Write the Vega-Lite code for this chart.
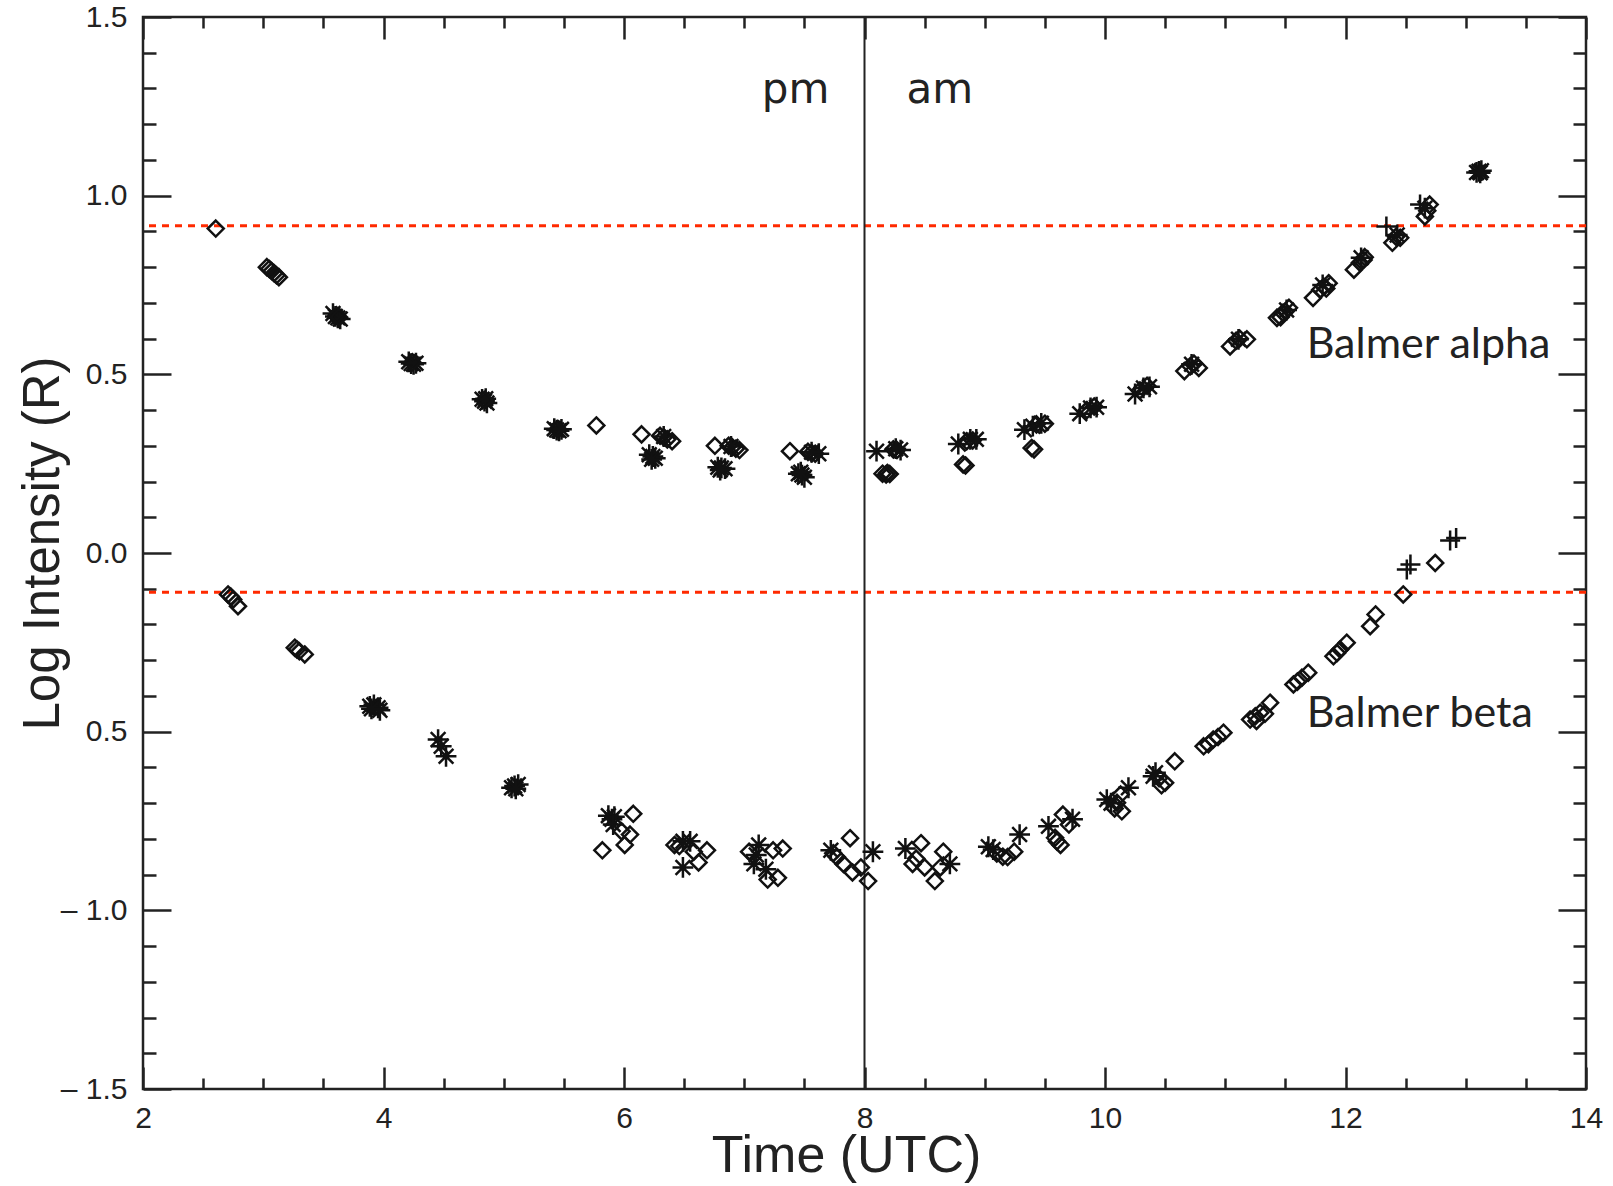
{
  "$schema": "https://vega.github.io/schema/vega-lite/v6.json",
  "width": 1443,
  "height": 1072,
  "autosize": "none",
  "padding": {"left": 143, "top": 17, "right": 27, "bottom": 97},
  "background": "white",
  "config": {
    "view": {"stroke": "#222222", "strokeWidth": 2.5},
    "axis": {
      "domain": false,
      "grid": false,
      "tickColor": "#222222",
      "tickWidth": 2.5,
      "labelFont": "Liberation Sans",
      "labelFontSize": 30,
      "labelColor": "#222222",
      "titleFont": "Liberation Sans",
      "titleFontWeight": "normal",
      "titleColor": "#222222"
    }
  },
  "datasets": {
    "pts": [
      {"line": "alpha", "time": 2.605, "logI": 0.908, "sym": "diamond"},
      {"line": "alpha", "time": 3.03, "logI": 0.8, "sym": "diamond"},
      {"line": "alpha", "time": 3.05, "logI": 0.795, "sym": "diamond"},
      {"line": "alpha", "time": 3.07, "logI": 0.789, "sym": "diamond"},
      {"line": "alpha", "time": 3.09, "logI": 0.783, "sym": "diamond"},
      {"line": "alpha", "time": 3.11, "logI": 0.777, "sym": "diamond"},
      {"line": "alpha", "time": 3.13, "logI": 0.772, "sym": "diamond"},
      {"line": "alpha", "time": 3.58, "logI": 0.67, "sym": "asterisk"},
      {"line": "alpha", "time": 3.6, "logI": 0.662, "sym": "asterisk"},
      {"line": "alpha", "time": 3.62, "logI": 0.658, "sym": "asterisk"},
      {"line": "alpha", "time": 3.64, "logI": 0.655, "sym": "asterisk"},
      {"line": "alpha", "time": 3.61, "logI": 0.665, "sym": "diamond"},
      {"line": "alpha", "time": 3.63, "logI": 0.66, "sym": "diamond"},
      {"line": "alpha", "time": 4.21, "logI": 0.535, "sym": "asterisk"},
      {"line": "alpha", "time": 4.23, "logI": 0.53, "sym": "asterisk"},
      {"line": "alpha", "time": 4.25, "logI": 0.528, "sym": "asterisk"},
      {"line": "alpha", "time": 4.27, "logI": 0.531, "sym": "asterisk"},
      {"line": "alpha", "time": 4.24, "logI": 0.534, "sym": "diamond"},
      {"line": "alpha", "time": 4.82, "logI": 0.43, "sym": "asterisk"},
      {"line": "alpha", "time": 4.84, "logI": 0.425, "sym": "asterisk"},
      {"line": "alpha", "time": 4.86, "logI": 0.42, "sym": "asterisk"},
      {"line": "alpha", "time": 4.85, "logI": 0.432, "sym": "asterisk"},
      {"line": "alpha", "time": 4.84, "logI": 0.428, "sym": "diamond"},
      {"line": "alpha", "time": 5.42, "logI": 0.348, "sym": "asterisk"},
      {"line": "alpha", "time": 5.44, "logI": 0.344, "sym": "asterisk"},
      {"line": "alpha", "time": 5.46, "logI": 0.342, "sym": "asterisk"},
      {"line": "alpha", "time": 5.48, "logI": 0.346, "sym": "asterisk"},
      {"line": "alpha", "time": 5.45, "logI": 0.347, "sym": "diamond"},
      {"line": "alpha", "time": 5.77, "logI": 0.357, "sym": "diamond"},
      {"line": "alpha", "time": 6.146, "logI": 0.332, "sym": "diamond"},
      {"line": "alpha", "time": 6.3, "logI": 0.328, "sym": "diamond"},
      {"line": "alpha", "time": 6.33, "logI": 0.324, "sym": "diamond"},
      {"line": "alpha", "time": 6.36, "logI": 0.318, "sym": "diamond"},
      {"line": "alpha", "time": 6.4, "logI": 0.313, "sym": "diamond"},
      {"line": "alpha", "time": 6.33, "logI": 0.326, "sym": "asterisk"},
      {"line": "alpha", "time": 6.21, "logI": 0.275, "sym": "asterisk"},
      {"line": "alpha", "time": 6.24, "logI": 0.27, "sym": "asterisk"},
      {"line": "alpha", "time": 6.26, "logI": 0.265, "sym": "asterisk"},
      {"line": "alpha", "time": 6.23, "logI": 0.262, "sym": "asterisk"},
      {"line": "alpha", "time": 6.756, "logI": 0.3, "sym": "diamond"},
      {"line": "alpha", "time": 6.87, "logI": 0.3, "sym": "diamond"},
      {"line": "alpha", "time": 6.9, "logI": 0.296, "sym": "diamond"},
      {"line": "alpha", "time": 6.93, "logI": 0.292, "sym": "diamond"},
      {"line": "alpha", "time": 6.96, "logI": 0.288, "sym": "diamond"},
      {"line": "alpha", "time": 6.89, "logI": 0.298, "sym": "asterisk"},
      {"line": "alpha", "time": 6.78, "logI": 0.24, "sym": "asterisk"},
      {"line": "alpha", "time": 6.81, "logI": 0.238, "sym": "asterisk"},
      {"line": "alpha", "time": 6.84, "logI": 0.236, "sym": "asterisk"},
      {"line": "alpha", "time": 6.8, "logI": 0.232, "sym": "asterisk"},
      {"line": "alpha", "time": 7.38, "logI": 0.285, "sym": "diamond"},
      {"line": "alpha", "time": 7.53, "logI": 0.283, "sym": "diamond"},
      {"line": "alpha", "time": 7.56, "logI": 0.28, "sym": "diamond"},
      {"line": "alpha", "time": 7.59, "logI": 0.278, "sym": "diamond"},
      {"line": "alpha", "time": 7.62, "logI": 0.278, "sym": "asterisk"},
      {"line": "alpha", "time": 7.56, "logI": 0.282, "sym": "asterisk"},
      {"line": "alpha", "time": 7.45, "logI": 0.222, "sym": "asterisk"},
      {"line": "alpha", "time": 7.48, "logI": 0.218, "sym": "asterisk"},
      {"line": "alpha", "time": 7.5, "logI": 0.212, "sym": "asterisk"},
      {"line": "alpha", "time": 7.47, "logI": 0.226, "sym": "asterisk"},
      {"line": "alpha", "time": 8.1, "logI": 0.285, "sym": "asterisk"},
      {"line": "alpha", "time": 8.24, "logI": 0.29, "sym": "diamond"},
      {"line": "alpha", "time": 8.27, "logI": 0.288, "sym": "diamond"},
      {"line": "alpha", "time": 8.3, "logI": 0.288, "sym": "asterisk"},
      {"line": "alpha", "time": 8.26, "logI": 0.292, "sym": "asterisk"},
      {"line": "alpha", "time": 8.15, "logI": 0.222, "sym": "diamond"},
      {"line": "alpha", "time": 8.18, "logI": 0.22, "sym": "diamond"},
      {"line": "alpha", "time": 8.21, "logI": 0.221, "sym": "diamond"},
      {"line": "alpha", "time": 8.19, "logI": 0.224, "sym": "diamond"},
      {"line": "alpha", "time": 8.78, "logI": 0.305, "sym": "asterisk"},
      {"line": "alpha", "time": 8.85, "logI": 0.313, "sym": "diamond"},
      {"line": "alpha", "time": 8.88, "logI": 0.318, "sym": "asterisk"},
      {"line": "alpha", "time": 8.9, "logI": 0.315, "sym": "diamond"},
      {"line": "alpha", "time": 8.93, "logI": 0.318, "sym": "asterisk"},
      {"line": "alpha", "time": 8.82, "logI": 0.248, "sym": "diamond"},
      {"line": "alpha", "time": 8.84, "logI": 0.245, "sym": "diamond"},
      {"line": "alpha", "time": 9.33, "logI": 0.345, "sym": "asterisk"},
      {"line": "alpha", "time": 9.4, "logI": 0.355, "sym": "asterisk"},
      {"line": "alpha", "time": 9.43, "logI": 0.36, "sym": "diamond"},
      {"line": "alpha", "time": 9.47, "logI": 0.363, "sym": "asterisk"},
      {"line": "alpha", "time": 9.5, "logI": 0.362, "sym": "diamond"},
      {"line": "alpha", "time": 9.39, "logI": 0.294, "sym": "diamond"},
      {"line": "alpha", "time": 9.41, "logI": 0.29, "sym": "diamond"},
      {"line": "alpha", "time": 9.79, "logI": 0.39, "sym": "asterisk"},
      {"line": "alpha", "time": 9.85, "logI": 0.4, "sym": "diamond"},
      {"line": "alpha", "time": 9.88, "logI": 0.406, "sym": "asterisk"},
      {"line": "alpha", "time": 9.91, "logI": 0.41, "sym": "diamond"},
      {"line": "alpha", "time": 9.93, "logI": 0.408, "sym": "asterisk"},
      {"line": "alpha", "time": 10.25, "logI": 0.445, "sym": "asterisk"},
      {"line": "alpha", "time": 10.29, "logI": 0.455, "sym": "diamond"},
      {"line": "alpha", "time": 10.32, "logI": 0.462, "sym": "asterisk"},
      {"line": "alpha", "time": 10.35, "logI": 0.468, "sym": "diamond"},
      {"line": "alpha", "time": 10.37, "logI": 0.465, "sym": "asterisk"},
      {"line": "alpha", "time": 10.66, "logI": 0.509, "sym": "diamond"},
      {"line": "alpha", "time": 10.71, "logI": 0.523, "sym": "diamond"},
      {"line": "alpha", "time": 10.74, "logI": 0.53, "sym": "diamond"},
      {"line": "alpha", "time": 10.72, "logI": 0.528, "sym": "asterisk"},
      {"line": "alpha", "time": 10.78, "logI": 0.518, "sym": "diamond"},
      {"line": "alpha", "time": 11.04, "logI": 0.578, "sym": "diamond"},
      {"line": "alpha", "time": 11.09, "logI": 0.594, "sym": "diamond"},
      {"line": "alpha", "time": 11.12, "logI": 0.6, "sym": "diamond"},
      {"line": "alpha", "time": 11.11, "logI": 0.598, "sym": "asterisk"},
      {"line": "alpha", "time": 11.18, "logI": 0.598, "sym": "diamond"},
      {"line": "alpha", "time": 11.43, "logI": 0.658, "sym": "diamond"},
      {"line": "alpha", "time": 11.46, "logI": 0.66, "sym": "diamond"},
      {"line": "alpha", "time": 11.48, "logI": 0.672, "sym": "diamond"},
      {"line": "alpha", "time": 11.5, "logI": 0.676, "sym": "diamond"},
      {"line": "alpha", "time": 11.51, "logI": 0.68, "sym": "asterisk"},
      {"line": "alpha", "time": 11.53, "logI": 0.686, "sym": "diamond"},
      {"line": "alpha", "time": 11.73, "logI": 0.714, "sym": "diamond"},
      {"line": "alpha", "time": 11.79, "logI": 0.737, "sym": "diamond"},
      {"line": "alpha", "time": 11.82, "logI": 0.745, "sym": "diamond"},
      {"line": "alpha", "time": 11.81, "logI": 0.75, "sym": "asterisk"},
      {"line": "alpha", "time": 11.84, "logI": 0.74, "sym": "diamond"},
      {"line": "alpha", "time": 11.86, "logI": 0.755, "sym": "diamond"},
      {"line": "alpha", "time": 12.07, "logI": 0.793, "sym": "diamond"},
      {"line": "alpha", "time": 12.12, "logI": 0.812, "sym": "diamond"},
      {"line": "alpha", "time": 12.15, "logI": 0.82, "sym": "diamond"},
      {"line": "alpha", "time": 12.13, "logI": 0.826, "sym": "asterisk"},
      {"line": "alpha", "time": 12.16, "logI": 0.828, "sym": "diamond"},
      {"line": "alpha", "time": 12.34, "logI": 0.914, "sym": "plus"},
      {"line": "alpha", "time": 12.39, "logI": 0.868, "sym": "diamond"},
      {"line": "alpha", "time": 12.42, "logI": 0.885, "sym": "diamond"},
      {"line": "alpha", "time": 12.455, "logI": 0.882, "sym": "diamond"},
      {"line": "alpha", "time": 12.43, "logI": 0.89, "sym": "asterisk"},
      {"line": "alpha", "time": 12.62, "logI": 0.975, "sym": "plus"},
      {"line": "alpha", "time": 12.66, "logI": 0.942, "sym": "diamond"},
      {"line": "alpha", "time": 12.68, "logI": 0.958, "sym": "diamond"},
      {"line": "alpha", "time": 12.7, "logI": 0.975, "sym": "diamond"},
      {"line": "alpha", "time": 12.66, "logI": 0.965, "sym": "asterisk"},
      {"line": "alpha", "time": 13.09, "logI": 1.065, "sym": "asterisk"},
      {"line": "alpha", "time": 13.11, "logI": 1.068, "sym": "asterisk"},
      {"line": "alpha", "time": 13.13, "logI": 1.07, "sym": "asterisk"},
      {"line": "alpha", "time": 13.12, "logI": 1.064, "sym": "asterisk"},
      {"line": "beta", "time": 2.707, "logI": -0.116, "sym": "diamond"},
      {"line": "beta", "time": 2.73, "logI": -0.122, "sym": "diamond"},
      {"line": "beta", "time": 2.75, "logI": -0.13, "sym": "diamond"},
      {"line": "beta", "time": 2.79, "logI": -0.149, "sym": "diamond"},
      {"line": "beta", "time": 3.262, "logI": -0.265, "sym": "diamond"},
      {"line": "beta", "time": 3.28, "logI": -0.27, "sym": "diamond"},
      {"line": "beta", "time": 3.3, "logI": -0.275, "sym": "diamond"},
      {"line": "beta", "time": 3.345, "logI": -0.284, "sym": "diamond"},
      {"line": "beta", "time": 3.886, "logI": -0.429, "sym": "asterisk"},
      {"line": "beta", "time": 3.92, "logI": -0.425, "sym": "asterisk"},
      {"line": "beta", "time": 3.955, "logI": -0.433, "sym": "asterisk"},
      {"line": "beta", "time": 3.97, "logI": -0.44, "sym": "asterisk"},
      {"line": "beta", "time": 3.9, "logI": -0.436, "sym": "asterisk"},
      {"line": "beta", "time": 4.454, "logI": -0.522, "sym": "asterisk"},
      {"line": "beta", "time": 4.48, "logI": -0.541, "sym": "asterisk"},
      {"line": "beta", "time": 4.52, "logI": -0.569, "sym": "asterisk"},
      {"line": "beta", "time": 5.065, "logI": -0.657, "sym": "asterisk"},
      {"line": "beta", "time": 5.09, "logI": -0.652, "sym": "asterisk"},
      {"line": "beta", "time": 5.12, "logI": -0.648, "sym": "asterisk"},
      {"line": "beta", "time": 5.1, "logI": -0.66, "sym": "asterisk"},
      {"line": "beta", "time": 5.87, "logI": -0.735, "sym": "asterisk"},
      {"line": "beta", "time": 5.9, "logI": -0.745, "sym": "asterisk"},
      {"line": "beta", "time": 5.92, "logI": -0.738, "sym": "asterisk"},
      {"line": "beta", "time": 5.91, "logI": -0.76, "sym": "asterisk"},
      {"line": "beta", "time": 6.077, "logI": -0.73, "sym": "diamond"},
      {"line": "beta", "time": 5.82, "logI": -0.832, "sym": "diamond"},
      {"line": "beta", "time": 6.006, "logI": -0.817, "sym": "diamond"},
      {"line": "beta", "time": 6.05, "logI": -0.788, "sym": "diamond"},
      {"line": "beta", "time": 5.98, "logI": -0.779, "sym": "diamond"},
      {"line": "beta", "time": 6.42, "logI": -0.817, "sym": "diamond"},
      {"line": "beta", "time": 6.46, "logI": -0.82, "sym": "diamond"},
      {"line": "beta", "time": 6.49, "logI": -0.807, "sym": "asterisk"},
      {"line": "beta", "time": 6.55, "logI": -0.807, "sym": "asterisk"},
      {"line": "beta", "time": 6.49, "logI": -0.88, "sym": "asterisk"},
      {"line": "beta", "time": 6.58, "logI": -0.836, "sym": "diamond"},
      {"line": "beta", "time": 6.62, "logI": -0.866, "sym": "diamond"},
      {"line": "beta", "time": 6.69, "logI": -0.832, "sym": "diamond"},
      {"line": "beta", "time": 7.04, "logI": -0.836, "sym": "diamond"},
      {"line": "beta", "time": 7.12, "logI": -0.817, "sym": "asterisk"},
      {"line": "beta", "time": 7.1, "logI": -0.845, "sym": "asterisk"},
      {"line": "beta", "time": 7.08, "logI": -0.87, "sym": "asterisk"},
      {"line": "beta", "time": 7.18, "logI": -0.885, "sym": "asterisk"},
      {"line": "beta", "time": 7.24, "logI": -0.832, "sym": "diamond"},
      {"line": "beta", "time": 7.32, "logI": -0.827, "sym": "diamond"},
      {"line": "beta", "time": 7.195, "logI": -0.914, "sym": "diamond"},
      {"line": "beta", "time": 7.28, "logI": -0.909, "sym": "diamond"},
      {"line": "beta", "time": 7.88, "logI": -0.798, "sym": "diamond"},
      {"line": "beta", "time": 7.72, "logI": -0.832, "sym": "asterisk"},
      {"line": "beta", "time": 7.74, "logI": -0.84, "sym": "diamond"},
      {"line": "beta", "time": 7.77, "logI": -0.851, "sym": "diamond"},
      {"line": "beta", "time": 7.825, "logI": -0.87, "sym": "diamond"},
      {"line": "beta", "time": 7.9, "logI": -0.894, "sym": "diamond"},
      {"line": "beta", "time": 7.97, "logI": -0.88, "sym": "diamond"},
      {"line": "beta", "time": 8.03, "logI": -0.918, "sym": "diamond"},
      {"line": "beta", "time": 8.07, "logI": -0.836, "sym": "asterisk"},
      {"line": "beta", "time": 8.34, "logI": -0.827, "sym": "asterisk"},
      {"line": "beta", "time": 8.47, "logI": -0.812, "sym": "diamond"},
      {"line": "beta", "time": 8.4, "logI": -0.87, "sym": "diamond"},
      {"line": "beta", "time": 8.43, "logI": -0.855, "sym": "diamond"},
      {"line": "beta", "time": 8.5, "logI": -0.88, "sym": "diamond"},
      {"line": "beta", "time": 8.585, "logI": -0.918, "sym": "diamond"},
      {"line": "beta", "time": 8.655, "logI": -0.836, "sym": "diamond"},
      {"line": "beta", "time": 8.63, "logI": -0.88, "sym": "diamond"},
      {"line": "beta", "time": 8.71, "logI": -0.87, "sym": "asterisk"},
      {"line": "beta", "time": 9.03, "logI": -0.822, "sym": "asterisk"},
      {"line": "beta", "time": 9.07, "logI": -0.83, "sym": "asterisk"},
      {"line": "beta", "time": 9.1, "logI": -0.841, "sym": "diamond"},
      {"line": "beta", "time": 9.15, "logI": -0.85, "sym": "diamond"},
      {"line": "beta", "time": 9.19, "logI": -0.851, "sym": "diamond"},
      {"line": "beta", "time": 9.245, "logI": -0.836, "sym": "diamond"},
      {"line": "beta", "time": 9.29, "logI": -0.788, "sym": "asterisk"},
      {"line": "beta", "time": 9.53, "logI": -0.765, "sym": "asterisk"},
      {"line": "beta", "time": 9.585, "logI": -0.797, "sym": "diamond"},
      {"line": "beta", "time": 9.6, "logI": -0.807, "sym": "diamond"},
      {"line": "beta", "time": 9.63, "logI": -0.817, "sym": "diamond"},
      {"line": "beta", "time": 9.65, "logI": -0.732, "sym": "diamond"},
      {"line": "beta", "time": 9.7, "logI": -0.76, "sym": "diamond"},
      {"line": "beta", "time": 9.73, "logI": -0.745, "sym": "asterisk"},
      {"line": "beta", "time": 10.015, "logI": -0.69, "sym": "asterisk"},
      {"line": "beta", "time": 10.05, "logI": -0.7, "sym": "asterisk"},
      {"line": "beta", "time": 10.08, "logI": -0.715, "sym": "diamond"},
      {"line": "beta", "time": 10.1, "logI": -0.699, "sym": "diamond"},
      {"line": "beta", "time": 10.14, "logI": -0.723, "sym": "diamond"},
      {"line": "beta", "time": 10.13, "logI": -0.676, "sym": "diamond"},
      {"line": "beta", "time": 10.195, "logI": -0.657, "sym": "asterisk"},
      {"line": "beta", "time": 10.4, "logI": -0.625, "sym": "asterisk"},
      {"line": "beta", "time": 10.42, "logI": -0.615, "sym": "asterisk"},
      {"line": "beta", "time": 10.45, "logI": -0.63, "sym": "diamond"},
      {"line": "beta", "time": 10.47, "logI": -0.65, "sym": "diamond"},
      {"line": "beta", "time": 10.5, "logI": -0.643, "sym": "diamond"},
      {"line": "beta", "time": 10.58, "logI": -0.583, "sym": "diamond"},
      {"line": "beta", "time": 10.82, "logI": -0.541, "sym": "diamond"},
      {"line": "beta", "time": 10.86, "logI": -0.535, "sym": "diamond"},
      {"line": "beta", "time": 10.9, "logI": -0.522, "sym": "diamond"},
      {"line": "beta", "time": 10.94, "logI": -0.515, "sym": "diamond"},
      {"line": "beta", "time": 10.985, "logI": -0.503, "sym": "diamond"},
      {"line": "beta", "time": 11.207, "logI": -0.466, "sym": "diamond"},
      {"line": "beta", "time": 11.25, "logI": -0.457, "sym": "diamond"},
      {"line": "beta", "time": 11.26, "logI": -0.47, "sym": "diamond"},
      {"line": "beta", "time": 11.29, "logI": -0.447, "sym": "diamond"},
      {"line": "beta", "time": 11.33, "logI": -0.45, "sym": "diamond"},
      {"line": "beta", "time": 11.373, "logI": -0.419, "sym": "diamond"},
      {"line": "beta", "time": 11.567, "logI": -0.368, "sym": "diamond"},
      {"line": "beta", "time": 11.6, "logI": -0.36, "sym": "diamond"},
      {"line": "beta", "time": 11.637, "logI": -0.349, "sym": "diamond"},
      {"line": "beta", "time": 11.69, "logI": -0.335, "sym": "diamond"},
      {"line": "beta", "time": 11.9, "logI": -0.289, "sym": "diamond"},
      {"line": "beta", "time": 11.93, "logI": -0.28, "sym": "diamond"},
      {"line": "beta", "time": 11.955, "logI": -0.27, "sym": "diamond"},
      {"line": "beta", "time": 12.01, "logI": -0.251, "sym": "diamond"},
      {"line": "beta", "time": 12.205, "logI": -0.205, "sym": "diamond"},
      {"line": "beta", "time": 12.25, "logI": -0.172, "sym": "diamond"},
      {"line": "beta", "time": 12.48, "logI": -0.116, "sym": "diamond"},
      {"line": "beta", "time": 12.51, "logI": -0.046, "sym": "plus"},
      {"line": "beta", "time": 12.54, "logI": -0.032, "sym": "plus"},
      {"line": "beta", "time": 12.746, "logI": -0.028, "sym": "diamond"},
      {"line": "beta", "time": 12.87, "logI": 0.035, "sym": "plus"},
      {"line": "beta", "time": 12.92, "logI": 0.042, "sym": "plus"}
    ],
    "refs": [{"level": 0.916}, {"level": -0.11}],
    "ampm": [
      {"time": 7.146, "logI": 1.26, "text": "pm"},
      {"time": 8.35, "logI": 1.26, "text": "am"}
    ],
    "names": [
      {"time": 11.677, "logI": 0.547, "text": "Balmer alpha"},
      {"time": 11.677, "logI": -0.486, "text": "Balmer beta"}
    ]
  },
  "layer": [
    {
      "data": {"name": "refs"},
      "mark": {"type": "rule", "color": "#ff2a00", "strokeWidth": 3, "strokeDash": [7, 6]},
      "encoding": {
        "y": {
          "field": "level", "type": "quantitative",
          "scale": {"domain": [-1.5, 1.5], "nice": false, "zero": false},
          "axis": {
            "orient": "right", "title": null, "labels": false,
            "values": [-1.5,-1.4,-1.3,-1.2,-1.1,-1.0,-0.9,-0.8,-0.7,-0.6,-0.5,-0.4,-0.3,-0.2,-0.1,0,0.1,0.2,0.3,0.4,0.5,0.6,0.7,0.8,0.9,1.0,1.1,1.2,1.3,1.4,1.5],
            "tickSize": {"condition": {"test": "abs(round(datum.value*10)) % 5 == 0", "value": -28}, "value": -13}
          }
        }
      }
    },
    {
      "data": {"values": [{"time": 8}]},
      "mark": {"type": "rule", "color": "#222222", "strokeWidth": 2},
      "encoding": {
        "x": {
          "field": "time", "type": "quantitative",
          "scale": {"domain": [2, 14], "nice": false, "zero": false},
          "axis": {
            "orient": "top", "title": null, "labels": false,
            "values": [2,2.5,3,3.5,4,4.5,5,5.5,6,6.5,7,7.5,8,8.5,9,9.5,10,10.5,11,11.5,12,12.5,13,13.5,14],
            "tickSize": {"condition": {"test": "datum.value % 2 == 0", "value": -22}, "value": -11}
          }
        }
      }
    },
    {
      "data": {"name": "pts"},
      "mark": {"type": "point", "filled": false, "color": "#111111", "strokeWidth": 2.5, "size": 256, "opacity": 1},
      "encoding": {
        "x": {
          "field": "time", "type": "quantitative",
          "scale": {"domain": [2, 14], "nice": false, "zero": false},
          "axis": {
            "orient": "bottom",
            "title": "Time (UTC)",
            "titleFontSize": 52,
            "titleAnchor": "start",
            "titleAlign": "center",
            "titleBaseline": "alphabetic",
            "titleX": 703,
            "titleY": 82,
            "values": [2,2.5,3,3.5,4,4.5,5,5.5,6,6.5,7,7.5,8,8.5,9,9.5,10,10.5,11,11.5,12,12.5,13,13.5,14],
            "labelExpr": "datum.value % 2 == 0 ? format(datum.value, 'd') : ''",
            "labelPadding": 36,
            "labelFlush": false,
            "labelOverlap": false,
            "tickSize": {"condition": {"test": "datum.value % 2 == 0", "value": -22}, "value": -11}
          }
        },
        "y": {
          "field": "logI", "type": "quantitative",
          "scale": {"domain": [-1.5, 1.5], "nice": false, "zero": false},
          "axis": {
            "orient": "left",
            "title": "Log Intensity (R)",
            "titleFontSize": 51,
            "titleAngle": -90,
            "titleAnchor": "start",
            "titleAlign": "center",
            "titleBaseline": "alphabetic",
            "titleX": -85,
            "titleY": 526,
            "values": [-1.5,-1.4,-1.3,-1.2,-1.1,-1.0,-0.9,-0.8,-0.7,-0.6,-0.5,-0.4,-0.3,-0.2,-0.1,0,0.1,0.2,0.3,0.4,0.5,0.6,0.7,0.8,0.9,1.0,1.1,1.2,1.3,1.4,1.5],
            "labelExpr": "abs(round(datum.value*10)) % 5 != 0 ? '' : (datum.value < -0.75 ? '\u2013 ' + format(abs(datum.value), '.1f') : format(abs(datum.value), '.1f'))",
            "labelPadding": 44,
            "labelFlush": false,
            "labelOverlap": false,
            "tickSize": {"condition": {"test": "abs(round(datum.value*10)) % 5 == 0", "value": -28}, "value": -13}
          }
        },
        "shape": {
          "field": "sym", "type": "nominal",
          "scale": {
            "domain": ["diamond", "asterisk", "plus"],
            "range": [
              "M0,-1L1,0L0,1L-1,0Z",
              "M-1.3,0L1.3,0M0,-1.3L0,1.3M-0.92,-0.92L0.92,0.92M-0.92,0.92L0.92,-0.92",
              "M-1.25,0L1.25,0M0,-1.25L0,1.25"
            ]
          },
          "legend": null
        }
      }
    },
    {
      "data": {"name": "ampm"},
      "mark": {"type": "text", "font": "DejaVu Sans", "fontSize": 42, "color": "#222222", "align": "left", "baseline": "alphabetic"},
      "encoding": {
        "x": {"field": "time", "type": "quantitative", "scale": {"domain": [2, 14], "nice": false, "zero": false}, "axis": null},
        "y": {"field": "logI", "type": "quantitative", "scale": {"domain": [-1.5, 1.5], "nice": false, "zero": false}, "axis": null},
        "text": {"field": "text"}
      }
    },
    {
      "data": {"name": "names"},
      "mark": {"type": "text", "font": "Lato", "fontSize": 43, "color": "#222222", "align": "left", "baseline": "alphabetic"},
      "encoding": {
        "x": {"field": "time", "type": "quantitative", "scale": {"domain": [2, 14], "nice": false, "zero": false}, "axis": null},
        "y": {"field": "logI", "type": "quantitative", "scale": {"domain": [-1.5, 1.5], "nice": false, "zero": false}, "axis": null},
        "text": {"field": "text"}
      }
    }
  ],
  "resolve": {"axis": {"x": "independent", "y": "independent"}}
}
